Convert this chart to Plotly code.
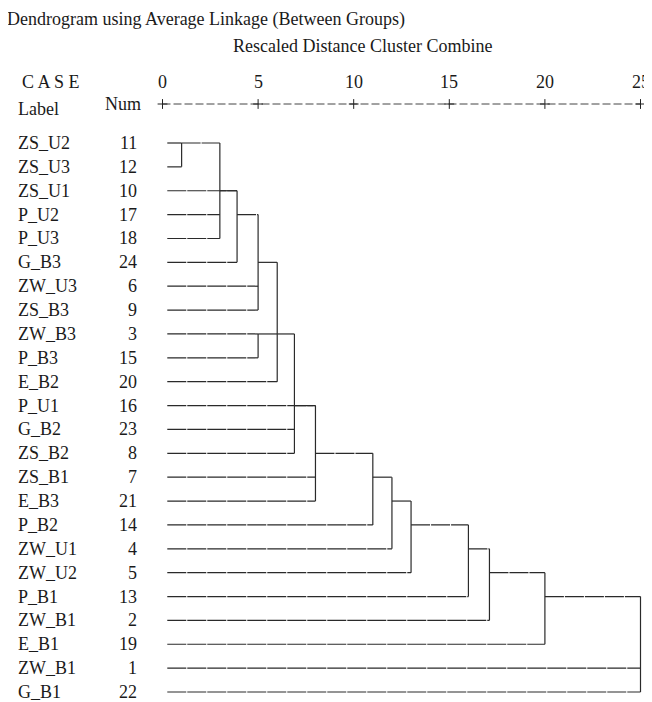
import math
import plotly.graph_objects as go

# ---------------- data ----------------
case_labels = ["ZS_U2", "ZS_U3", "ZS_U1", "P_U2", "P_U3", "G_B3", "ZW_U3", "ZS_B3",
               "ZW_B3", "P_B3", "E_B2", "P_U1", "G_B2", "ZS_B2", "ZS_B1", "E_B3",
               "P_B2", "ZW_U1", "ZW_U2", "P_B1", "ZW_B1", "E_B1", "ZW_B1", "G_B1"]
case_nums = [11, 12, 10, 17, 18, 24, 6, 9, 3, 15, 20, 16, 23, 8, 7, 21,
             14, 4, 5, 13, 2, 19, 1, 22]

# cluster merges: members are case numbers ("11") or earlier merges ("m0")
merge_members = [
    ["11", "12"],
    ["m0", "17", "18"],
    ["m1", "10", "24"],
    ["m2", "6", "9"],
    ["3", "15"],
    ["m3", "m4", "20"],
    ["m5", "23", "8"],
    ["m6", "16", "7", "21"],
    ["m7", "14"],
    ["m8", "4"],
    ["m9", "5"],
    ["m10", "13"],
    ["m11", "2"],
    ["m12", "19"],
    ["m13", "1", "22"],
]
merge_dist = [1.0, 3.0, 3.9, 5.0, 5.0, 6.0, 6.9, 8.0, 11.0, 12.0, 13.0, 16.0, 17.1, 20.0, 25.0]

tick_vals = [0, 5, 10, 15, 20, 25]
tick_text = ["0", "5", "10", "15", "20", "25"]

title_text = "Dendrogram using Average Linkage (Between Groups)"
subtitle_text = "Rescaled Distance Cluster Combine"

# ---------------- layout constants (reference pixels) ----------------
PAGE_OFF = 8            # browser body margin
W, H = 652 - PAGE_OFF, 702 - PAGE_OFF
X0_PX, X25_PX = 162.5, 640.5
ROW1_PX, ROW_STEP = 143.0, 23.87
AXIS_PX = 104.0
LEAF_START = 0.25
FONT = "Liberation Serif"
FS = 18
INK = "#1a1a1a"
LINE = "#2a2a2a"

sx = (X25_PX - X0_PX) / 25.0
x_range = [-(X0_PX - PAGE_OFF) / sx, (W - (X0_PX - PAGE_OFF)) / sx]
y_top = 1 - (ROW1_PX - PAGE_OFF) / ROW_STEP
y_bot = y_top + H / ROW_STEP


def px_x(px):
    return (px - X0_PX) / sx


def px_row(py):
    return 1 + (py - ROW1_PX) / ROW_STEP


def paper_x(px):
    return (px - PAGE_OFF) / W


def paper_y(py):
    return 1 - (py - PAGE_OFF) / H


axis_row = px_row(AXIS_PX)

# ---------------- build tree geometry ----------------
pos = {}
for i, n in enumerate(case_nums):
    pos[str(n)] = (LEAF_START, i + 1)

hx, hy, vx, vy = [], [], [], []
for i, (members, d) in enumerate(zip(merge_members, merge_dist)):
    rows = [pos[m][1] for m in members]
    for m in members:
        cx, cr = pos[m]
        hx += [cx, d, None]
        hy += [cr, cr, None]
    vx += [d, d, None]
    vy += [min(rows), max(rows), None]
    node_row = math.ceil(sum(rows) / len(rows) - 0.5)
    pos["m%d" % i] = (d, node_row)

fig = go.Figure()
fig.add_trace(go.Scatter(x=hx, y=hy, mode="lines",
                         line=dict(color=LINE, width=1.2, dash="19px,1px"),
                         hoverinfo="skip"))
fig.add_trace(go.Scatter(x=vx, y=vy, mode="lines",
                         line=dict(color=LINE, width=1.2), hoverinfo="skip"))

# scale line "+---------+"
fig.add_trace(go.Scatter(x=[tick_vals[0], tick_vals[-1]], y=[axis_row, axis_row],
                         mode="lines", line=dict(color="#444", width=1, dash="8px,3px"),
                         hoverinfo="skip"))
fig.add_trace(go.Scatter(x=tick_vals, y=[axis_row] * len(tick_vals), mode="markers",
                         marker=dict(symbol="cross-thin", size=7,
                                     line=dict(color="#222", width=1)),
                         hoverinfo="skip"))

ann = []
# tick numbers
for v, t in zip(tick_vals, tick_text):
    ann.append(dict(x=v, y=px_row(82), xref="x", yref="y",
                    text=t, showarrow=False, xanchor="center", yanchor="middle",
                    borderpad=0,
                    font=dict(family=FONT, size=FS, color=INK)))

# row labels
for i, (lab, n) in enumerate(zip(case_labels, case_nums)):
    ann.append(dict(x=px_x(16), y=i + 1, xref="x", yref="y", text=lab,
                    showarrow=False, xanchor="left", yanchor="middle",
                    font=dict(family=FONT, size=FS, color=INK)))
    ann.append(dict(x=px_x(139), y=i + 1, xref="x", yref="y", text=str(n),
                    showarrow=False, xanchor="right", yanchor="middle",
                    font=dict(family=FONT, size=FS, color=INK)))

# headers
ann.append(dict(x=paper_x(6), y=1, xref="paper", yref="paper", text=title_text,
                showarrow=False, xanchor="left", yanchor="top", borderpad=0,
                font=dict(family=FONT, size=FS, color=INK)))
ann.append(dict(x=paper_x(362), y=paper_y(46), xref="paper", yref="paper", text=subtitle_text,
                showarrow=False, xanchor="center", yanchor="middle",
                font=dict(family=FONT, size=FS, color=INK)))
ann.append(dict(x=paper_x(20), y=paper_y(82), xref="paper", yref="paper", text="C A S E",
                showarrow=False, xanchor="left", yanchor="middle",
                font=dict(family=FONT, size=FS, color=INK)))
ann.append(dict(x=paper_x(16), y=paper_y(109), xref="paper", yref="paper", text="Label",
                showarrow=False, xanchor="left", yanchor="middle",
                font=dict(family=FONT, size=FS, color=INK)))
ann.append(dict(x=paper_x(103), y=paper_y(104), xref="paper", yref="paper", text="Num",
                showarrow=False, xanchor="left", yanchor="middle",
                font=dict(family=FONT, size=FS, color=INK)))

fig.update_layout(
    width=W, height=H,
    margin=dict(l=0, r=0, t=0, b=0),
    paper_bgcolor="white", plot_bgcolor="white",
    showlegend=False,
    xaxis=dict(range=x_range, visible=False, fixedrange=True),
    yaxis=dict(range=[y_bot, y_top], visible=False, fixedrange=True),
    annotations=ann,
)

fig.write_html("out.html")
